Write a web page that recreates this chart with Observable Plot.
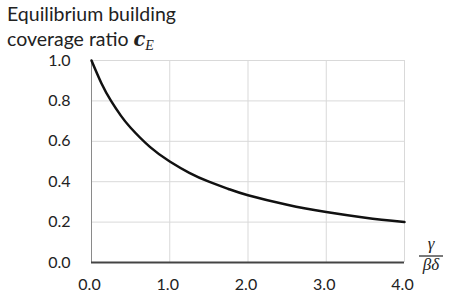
<!DOCTYPE html>
<html>
<head>
<meta charset="utf-8">
<script src="https://cdn.jsdelivr.net/npm/d3@7"></script>
<script src="https://cdn.jsdelivr.net/npm/@observablehq/plot@0.6"></script>
<style>
  html, body { margin: 0; padding: 0; background: #fff; }
  #chart svg { display: block; }
</style>
</head>
<body>
<div id="chart"></div>
<script>
// Values
const ratioX = [0, 0.125, 0.25, 0.375, 0.5, 0.75, 1.0, 1.25, 1.5, 1.75, 2.0, 2.5, 3.0, 3.5, 4.0];
const coverageY = [1.000, 0.889, 0.800, 0.727, 0.667, 0.571, 0.500, 0.444, 0.400, 0.364, 0.333, 0.286, 0.250, 0.222, 0.200];
const xTicks = [0, 1, 2, 3, 4];
const yTicks = [0, 0.2, 0.4, 0.6, 0.8, 1.0];
const titleLines = ["Equilibrium building", "coverage ratio "];

const data = ratioX.map((x, i) => ({x, y: coverageY[i]}));
const fmt = d => d.toFixed(1);
const FONT = "Lato, 'Open Sans', sans-serif";

const chart = Plot.plot({
  width: 450,
  height: 300,
  marginLeft: 91,
  marginRight: 46,
  marginTop: 60,
  marginBottom: 38,
  style: {fontFamily: FONT, fontSize: "16px", color: "#222", background: "#fff"},
  x: {domain: [0, 4], label: null},
  y: {domain: [0, 1], label: null},
  marks: [
    Plot.gridX(xTicks.slice(1), {stroke: "#d9d9d9", strokeOpacity: 1}),
    Plot.gridY(yTicks.slice(1), {stroke: "#d9d9d9", strokeOpacity: 1}),
    Plot.ruleX([0], {stroke: "#8a8a8a", strokeWidth: 1}),
    Plot.line(data, {x: "x", y: "y", curve: "natural", stroke: "#111", strokeWidth: 2.5}),
    Plot.ruleY([0], {stroke: "#444", strokeWidth: 2}),
    Plot.axisX({ticks: xTicks, tickFormat: fmt, tickSize: 0, tickPadding: 16, dx: -2, fontSize: 16, fill: "#222", label: null}),
    Plot.axisY({ticks: yTicks, tickFormat: fmt, tickSize: 0, tickPadding: 21, fontSize: 16, fill: "#222", label: null})
  ]
});

document.getElementById("chart").appendChild(chart);

// Title and axis label drawn as real SVG text
const svg = d3.select(chart);
svg.append("text")
  .attr("x", 7).attr("y", 21).attr("text-anchor", "start")
  .attr("font-family", FONT).attr("font-size", 19.5).attr("fill", "#222")
  .text(titleLines[0]);
const t2 = svg.append("text")
  .attr("x", 7).attr("y", 46).attr("text-anchor", "start")
  .attr("font-family", FONT).attr("font-size", 19.5).attr("fill", "#222");
t2.append("tspan").text(titleLines[1]);
t2.append("tspan")
  .attr("font-family", "'DejaVu Serif', serif").attr("font-style", "italic").attr("font-weight", "bold")
  .text("c");
t2.append("tspan")
  .attr("font-family", "'Liberation Serif', serif").attr("font-style", "italic")
  .attr("font-size", 14).attr("dy", 4)
  .text("E");

// x-axis label as a fraction γ / βδ
const fx = 431;
svg.append("text")
  .attr("x", fx).attr("y", 249).attr("text-anchor", "middle")
  .attr("font-family", "'Liberation Serif', serif").attr("font-style", "italic")
  .attr("font-size", 17).attr("fill", "#222")
  .text("γ");
svg.append("line")
  .attr("x1", fx - 12).attr("x2", fx + 12).attr("y1", 256).attr("y2", 256)
  .attr("stroke", "#222").attr("stroke-width", 1.2);
svg.append("text")
  .attr("x", fx).attr("y", 270).attr("text-anchor", "middle")
  .attr("font-family", "'Liberation Serif', serif").attr("font-style", "italic")
  .attr("font-size", 17).attr("fill", "#222")
  .text("βδ");
</script>
</body>
</html>
